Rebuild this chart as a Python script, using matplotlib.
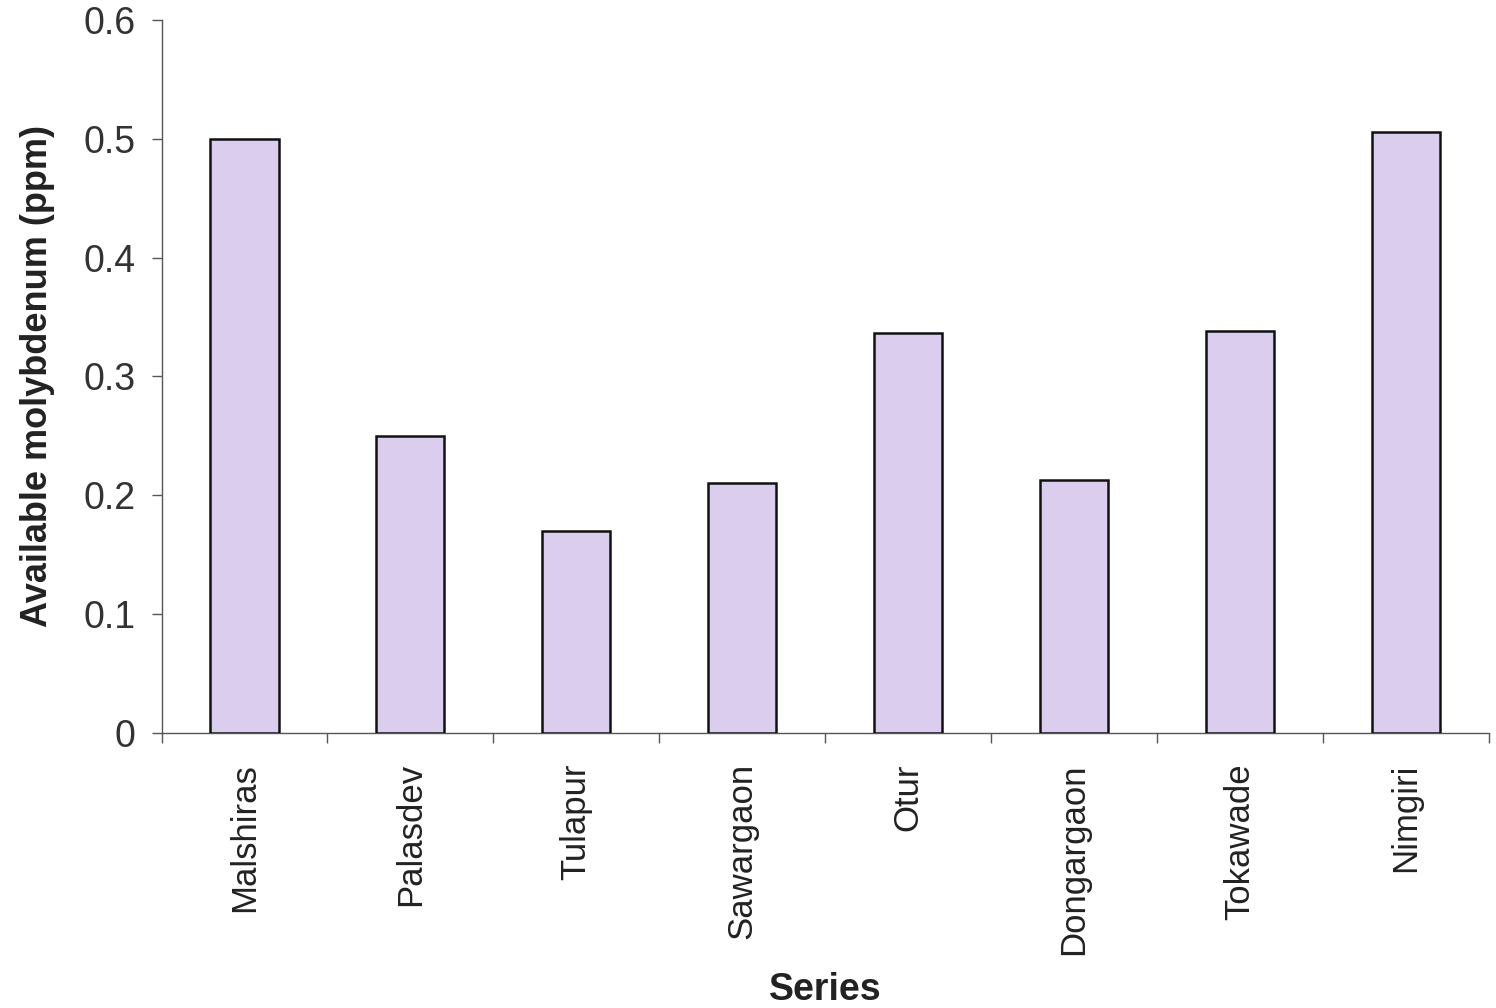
import matplotlib
matplotlib.use("Agg")
import matplotlib.pyplot as plt
import numpy as np

categories = ["Malshiras", "Palasdev", "Tulapur", "Sawargaon", "Otur",
              "Dongargaon", "Tokawade", "Nimgiri"]
values = [0.50, 0.25, 0.17, 0.21, 0.337, 0.213, 0.338, 0.506]
ytick_values = [0, 0.1, 0.2, 0.3, 0.4, 0.5, 0.6]
ytick_labels = ["0", "0.1", "0.2", "0.3", "0.4", "0.5", "0.6"]

plt.rcParams['font.family'] = ['Liberation Sans', 'DejaVu Sans']

fig = plt.figure(figsize=(14.96, 10.08), dpi=100)
ax = fig.add_axes([0.108, 0.273, 0.887, 0.707])

x = np.arange(len(categories))
ax.bar(x, values, width=0.41, color='#dbcdee', edgecolor='#111111', linewidth=1.8, zorder=3)

ax.set_xlim(-0.5, len(categories) - 0.5)
ax.set_ylim(0, 0.6)
ax.set_yticks(ytick_values)
ax.set_yticklabels(ytick_labels, fontsize=27, color='#333333')
ax.set_xticks(x)
ax.set_xticklabels(categories, rotation=90, fontsize=25, color='#222222')
ax.set_xticks(np.arange(-0.5, len(categories)), minor=True)
ax.tick_params(axis='x', which='major', length=0, pad=22)
ax.tick_params(axis='x', which='minor', length=7, width=1, color='#555555', direction='out')
ax.tick_params(axis='y', length=7, width=1, color='#555555', direction='out', pad=12)

for s in ['top', 'right']:
    ax.spines[s].set_visible(False)
for s in ['left', 'bottom']:
    ax.spines[s].set_color('#555555')
    ax.spines[s].set_linewidth(1)

ax.set_ylabel("Available molybdenum (ppm)", fontsize=26, fontweight='bold', color='#222222', labelpad=20)
ax.set_xlabel("Series", fontsize=27, fontweight='bold', color='#222222')
ax.xaxis.set_label_coords(0.5, -0.335)

fig.savefig("out.png", dpi=100, facecolor='white')
